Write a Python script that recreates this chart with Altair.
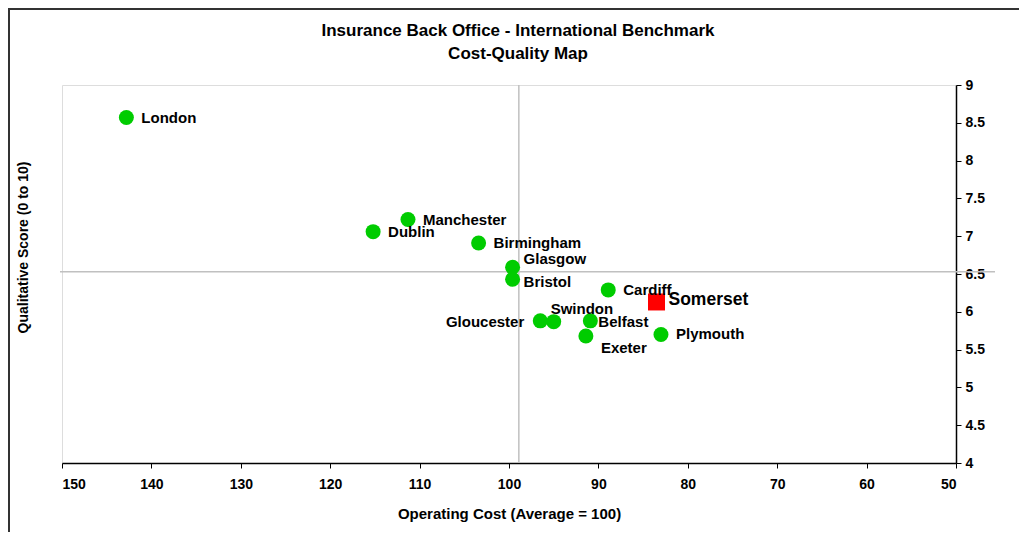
import altair as alt
import pandas as pd

# ---- data ----
cities = ["London", "Manchester", "Dublin", "Birmingham", "Glasgow", "Bristol",
          "Cardiff", "Gloucester", "Swindon", "Belfast", "Exeter", "Plymouth"]
cost = [142.8, 111.3, 115.2, 103.4, 99.6, 99.6, 88.9, 96.5, 95.0, 90.9, 91.4, 83.0]
score = [8.57, 7.22, 7.06, 6.91, 6.59, 6.43, 6.29, 5.88, 5.87, 5.88, 5.68, 5.70]

focus_name = ["Somerset"]
focus_cost = [83.5]
focus_score = [6.13]

avg_cost = [98.9]
avg_score = [6.53]

x_ticks = [150, 140, 130, 120, 110, 100, 90, 80, 70, 60, 50]
y_ticks = [4, 4.5, 5, 5.5, 6, 6.5, 7, 7.5, 8, 8.5, 9]

title_lines = ["Insurance Back Office - International Benchmark", "Cost-Quality Map"]

# ---- label placement (styling only) ----
label_style = {
    "London": dict(dx=15, dy=0, align="left"),
    "Manchester": dict(dx=15, dy=0, align="left"),
    "Dublin": dict(dx=15, dy=0, align="left"),
    "Birmingham": dict(dx=15, dy=0, align="left"),
    "Glasgow": dict(dx=11, dy=-8, align="left"),
    "Bristol": dict(dx=11, dy=3, align="left"),
    "Cardiff": dict(dx=15, dy=0, align="left"),
    "Gloucester": dict(dx=-16, dy=1, align="right"),
    "Swindon": dict(dx=-3, dy=-13, align="left"),
    "Belfast": dict(dx=8, dy=1, align="left"),
    "Exeter": dict(dx=15, dy=12, align="left"),
    "Plymouth": dict(dx=15, dy=0, align="left"),
}

W, H = 894, 378
FONT = "Liberation Sans"

df = pd.DataFrame({"name": cities, "cost": cost, "score": score})
df_focus = pd.DataFrame({"name": focus_name, "cost": focus_cost, "score": focus_score})
df_vline = pd.DataFrame({"cost": avg_cost})
df_hline = pd.DataFrame({"score": avg_score})
df_one = pd.DataFrame({"a": [0]})

xscale = alt.Scale(domain=[50, 150], reverse=True, nice=False, zero=False)
yscale = alt.Scale(domain=[4, 9], nice=False, zero=False)

x_axis = alt.Axis(values=x_ticks, grid=False, tickSize=5, tickColor="black",
                  domainColor="black", domainWidth=1.5, labelPadding=9,
                  labelFontSize=14, labelFontWeight="bold", labelColor="black",
                  labelFont=FONT, title="Operating Cost (Average = 100)",
                  titleFontSize=15, titleFontWeight="bold", titleFont=FONT,
                  titleColor="black", titlePadding=15)

y_axis_right = alt.Axis(orient="right", values=y_ticks, grid=False, tickSize=5,
                        tickColor="black", domainColor="black", domainWidth=1.5,
                        labelPadding=4, labelFontSize=14, labelFontWeight="bold",
                        labelColor="black", labelFont=FONT, format=".2~f", title=None)

y_axis_left = alt.Axis(orient="left", domain=False, ticks=False, labels=False,
                       grid=False, title="Qualitative Score (0 to 10)",
                       titleFontSize=14, titleFontWeight="bold", titleFont=FONT,
                       titleColor="black", titleAngle=270, titleX=-39, titleY=162,
                       titleBaseline="middle", titleAlign="center")


def X():
    return alt.X("cost:Q", scale=xscale, axis=x_axis, title="Operating Cost (Average = 100)")


# outer chart frame (decoration)
frame = alt.Chart(df_one).mark_rect(filled=False, stroke="#333333", strokeWidth=2,
                                    fillOpacity=0).encode(
    x=alt.value(-53), x2=alt.value(W + 200), y=alt.value(-76), y2=alt.value(H + 200))

title_layers = [
    alt.Chart(df_one).mark_text(text=title_lines[0], font=FONT, fontSize=17,
                                fontWeight="bold", color="black", align="center",
                                baseline="middle").encode(
        x=alt.value(456), y=alt.value(-54)),
    alt.Chart(df_one).mark_text(text=title_lines[1], font=FONT, fontSize=17,
                                fontWeight="bold", color="black", align="center",
                                baseline="middle").encode(
        x=alt.value(456), y=alt.value(-31)),
]

vline = alt.Chart(df_vline).mark_rule(color="#C0C0C0", strokeWidth=1.5).encode(
    x=X(), y=alt.value(0), y2=alt.value(H))

hline = alt.Chart(df_hline).mark_rule(color="#C0C0C0", strokeWidth=1.5).encode(
    y=alt.Y("score:Q", scale=yscale, axis=y_axis_left),
    x=alt.value(-2), x2=alt.value(W + 39))

points = alt.Chart(df).mark_point(shape="circle", filled=True, opacity=1,
                                  color="#00CC00", size=225).encode(
    x=X(), y=alt.Y("score:Q", scale=yscale, axis=y_axis_right))

focus = alt.Chart(df_focus).mark_point(shape="square", filled=True, opacity=1,
                                       color="#FF0000", size=289).encode(
    x=X(), y=alt.Y("score:Q", scale=yscale, axis=None))

focus_label = alt.Chart(df_focus).mark_text(
    align="left", baseline="middle", dx=12, dy=-2, font=FONT, fontSize=17.5,
    fontWeight="bold", color="black").encode(
    x=X(), y=alt.Y("score:Q", scale=yscale, axis=None), text="name:N")

label_layers = []
for name in cities:
    st = label_style[name]
    label_layers.append(
        alt.Chart(df).transform_filter(alt.datum.name == name).mark_text(
            align=st["align"], baseline="middle", dx=st["dx"], dy=st["dy"],
            font=FONT, fontSize=15, fontWeight="bold", color="black").encode(
            x=X(), y=alt.Y("score:Q", scale=yscale, axis=None), text="name:N"))

chart = alt.layer(
    frame, *title_layers, vline, hline, points, focus, focus_label, *label_layers
).resolve_axis(y="independent").properties(
    width=W, height=H,
    autosize=alt.AutoSizeParams(type="none"),
    padding={"left": 54, "top": 77, "right": 63, "bottom": 69},
).configure_view(stroke="#808080", strokeWidth=1).configure(background="white")

chart.save("out.html", embed_options={"renderer": "svg", "actions": False})
